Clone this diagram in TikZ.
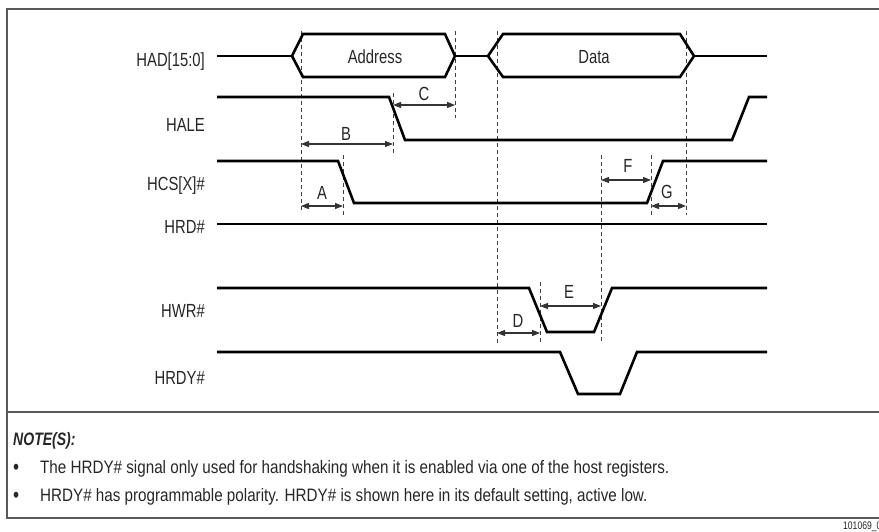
\documentclass[tikz,border=0pt]{standalone}
\usepackage{fontspec}
\setmainfont{Liberation Sans}[FakeStretch=0.78]
\newfontfamily\notefont{Liberation Sans}[FakeStretch=0.845]
\usetikzlibrary{arrows.meta}
\tikzset{
  frame/.style={draw=black!65, line width=1.5pt},
  sig/.style={draw=black, line width=2.6pt, line join=miter},
  guide/.style={draw=black!75, line width=0.8pt, dash pattern=on 4pt off 3pt},
  dim/.style={draw=black!80, line width=1.1pt, {Triangle[length=8pt,width=6pt]}-{Triangle[length=8pt,width=6pt]}},
  siglbl/.style={anchor=base east, inner sep=0pt, text=black!85, font=\fontsize{19}{21}\selectfont},
  dimlbl/.style={anchor=base, inner sep=0pt, text=black!85, font=\fontsize{19}{21}\selectfont},
  notetxt/.style={anchor=base west, inner sep=0pt, text=black!85, font=\notefont\fontsize{18}{20}\selectfont},
}
\begin{document}
\begin{tikzpicture}[x=1pt,y=-1pt]
\useasboundingbox (0,0) rectangle (879,531);
% frame
\draw[frame] (890,9) -- (7,9) -- (7,518) -- (890,518);
\draw[frame] (7,412) -- (890,412);
% signal labels
\node[siglbl] (lhad) at (205,66) {HAD[15:0]};
\node[siglbl] (lhale) at (205,131) {HALE};
\node[siglbl] (lhcs) at (205,190) {HCS[X]\#};
\node[siglbl] (lhrd) at (205,233) {HRD\#};
\node[siglbl] (lhwr) at (205,317) {HWR\#};
\node[siglbl] (lhrdy) at (205,384) {HRDY\#};
% guide lines
\draw[guide] (301,31) -- (301,213);
\draw[guide] (455,31) -- (455,118);
\draw[guide] (497,31) -- (497,343);
\draw[guide] (686,31) -- (686,215);
\draw[guide] (393,93) -- (393,153);
\draw[guide] (343,155) -- (343,215);
\draw[guide] (601,155) -- (601,341);
\draw[guide] (651,155) -- (651,217);
\draw[guide] (540,282) -- (540,343);
% HAD bus
\draw[sig] (217,56) -- (292,56);
\draw[sig] (292,56) -- (303,34) -- (445,34) -- (455,56) -- (445,77) -- (303,77) -- cycle;
\draw[sig] (455,56) -- (488,56);
\draw[sig] (488,56) -- (503,34) -- (680,34) -- (694,56) -- (680,77) -- (503,77) -- cycle;
\draw[sig] (694,56) -- (767,56);
\node[dimlbl] (taddr) at (375,63) {Address};
\node[dimlbl] (tdata) at (594,63) {Data};
% HALE
\draw[sig] (217,97) -- (389,97) -- (405,140) -- (732,140) -- (749,97) -- (767,97);
% HCS
\draw[sig] (217,161) -- (338,161) -- (354,203) -- (647,203) -- (663,161) -- (767,161);
% HRD
\draw[sig] (217,224) -- (767,224);
% HWR
\draw[sig] (217,288) -- (529,288) -- (547,332) -- (594,332) -- (612,288) -- (767,288);
% HRDY
\draw[sig] (217,352) -- (560,352) -- (578,394) -- (620,394) -- (637,352) -- (767,352);
% dimension arrows
\coordinate (c1) at (393,105); \coordinate (c2) at (455,105);
\coordinate (b1) at (301,144); \coordinate (b2) at (393,144);
\coordinate (a1) at (301,206); \coordinate (a2) at (343,206);
\coordinate (f1) at (601,180); \coordinate (f2) at (651,180);
\coordinate (g1) at (651,206); \coordinate (g2) at (686,206);
\coordinate (d1) at (497,333); \coordinate (d2) at (540,333);
\coordinate (e1) at (540,306); \coordinate (e2) at (601,306);
\draw[dim] (c1) -- (c2);
\draw[dim] (b1) -- (b2);
\draw[dim] (a1) -- (a2);
\draw[dim] (f1) -- (f2);
\draw[dim] (g1) -- (g2);
\draw[dim] (d1) -- (d2);
\draw[dim] (e1) -- (e2);
\node[dimlbl] (lc) at (424,100) {C};
\node[dimlbl] (lb) at (346,140) {B};
\node[dimlbl] (la) at (322,199) {A};
\node[dimlbl] (lf) at (628,172) {F};
\node[dimlbl] (lg) at (667,198) {G};
\node[dimlbl] (ld) at (518,327) {D};
\node[dimlbl] (le) at (569,298) {E};
% notes
\node[notetxt, font=\fontsize{18}{20}\selectfont\bfseries\itshape] (nt) at (13,445) {NOTE(S):};
\node[notetxt, font=\fontsize{22}{24}\selectfont] (bu1) at (13,474) {•};
\node[notetxt] (n1) at (40,473) {The HRDY\# signal only used for handshaking when it is enabled via one of the host registers.};
\node[notetxt, font=\fontsize{22}{24}\selectfont] (bu2) at (13,502) {•};
\node[notetxt] (n2) at (40,501) {HRDY\# has programmable polarity. HRDY\# is shown here in its default setting, active low.};
\node[anchor=base west, inner sep=0pt, text=black!85, font=\fontsize{11}{12}\selectfont] (fig) at (843,529) {101069\_01};
\end{tikzpicture}
\end{document}
